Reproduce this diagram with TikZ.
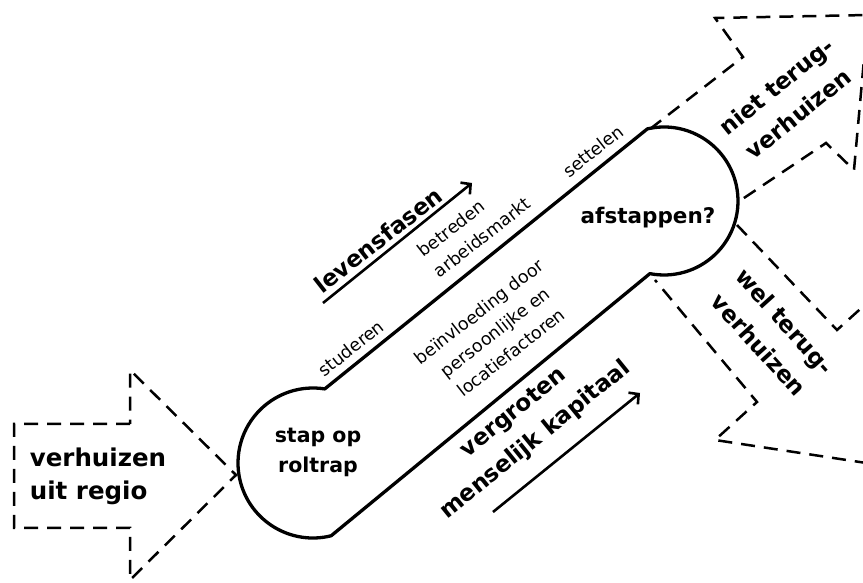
\documentclass[tikz,border=0pt]{standalone}
\usepackage{fontspec}
\setmainfont{DejaVu Sans}
\usetikzlibrary{arrows.meta,calc}
\tikzset{
  outline/.style={line width=3.3pt, line join=round},
  dashline/.style={line width=2.5pt, dash pattern=on 14pt off 9pt, line join=miter},
  arr/.style={line width=2.6pt, -{Straight Barb[length=7pt,width=15pt]}},
  lbl/.style={font=\fontsize{17.5}{26}\selectfont, inner sep=0pt, align=center},
  blbl/.style={font=\bfseries\fontsize{23}{35}\selectfont, inner sep=0pt, align=center},
}
\begin{document}
\begin{tikzpicture}[x=1pt,y=1pt]
\useasboundingbox (0,0) rectangle (863,583);
\clip (0,0) rectangle (863,583);
% escalator outline
\coordinate (L) at (313,120);
\coordinate (R) at (664,382);
\draw[outline] ($(L)+(81:75)$) -- ($(R)+(103:74)$)
  arc[start angle=103, end angle=-101, radius=74]
  -- ($(L)+(-76:75)$)
  arc[start angle=-76, end angle=-279, radius=75] -- cycle;
% left dashed arrow
\draw[dashline] (130,159) -- (14,159) -- (14,55) -- (130,55) -- (130,3) -- (236,108) -- (130,213) -- cycle;
% top right dashed arrow
\draw[dashline] (650,454) -- (743,526) -- (715,565) -- (868,568) -- (854,413) -- (826,440) -- (738,381);
% bottom right dashed arrow
\draw[dashline] (737,358) -- (837,253) -- (878,290) -- (886,117) -- (715,143) -- (757,181) -- (655,303);
% texts
\node[font=\bfseries\fontsize{24.5}{33}\selectfont, inner sep=0pt, align=left] (regio) at (98,107) {verhuizen\\uit regio};
\node[font=\bfseries\fontsize{20.5}{30}\selectfont, inner sep=0pt, align=center] (stap) at (318,131) {stap op\\roltrap};
\node[font=\bfseries\fontsize{21.5}{30}\selectfont, inner sep=0pt] (af) at (648,365) {afstappen?};
\node[blbl, rotate=38] (lev) at (378,343) {levensfasen};
\node[lbl, rotate=38] (stud) at (351,235) {studeren};
\node[lbl, rotate=38, align=left] (betr) at (474,356) {betreden\\arbeidsmarkt};
\node[lbl, rotate=38] (sett) at (593,432) {settelen};
\node[lbl, rotate=38] (bein) at (495,251) {beïnvloeding door\\persoonlijke en\\locatiefactoren};
\node[blbl, rotate=39] (verg) at (525,156) {vergroten\\menselijk kapitaal};
\node[blbl, rotate=39] (niet) at (787,483) {niet terug-\\verhuizen};
\node[blbl, rotate=-48] (wel) at (772,250) {wel terug-\\verhuizen};
% arrows
\coordinate (la) at (323,280);
\coordinate (lb) at (472,400);
\coordinate (ka) at (493,71);
\coordinate (kb) at (640,190);
\draw[arr] (la) -- (lb);
\draw[arr] (ka) -- (kb);
\end{tikzpicture}
\end{document}
